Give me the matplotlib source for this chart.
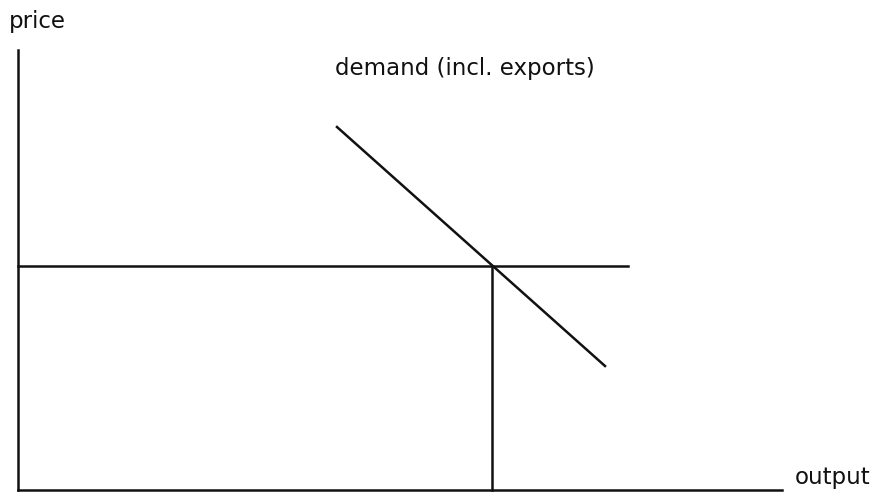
import matplotlib.pyplot as plt

# diagrama: oferta a preco mundial, demanda incl. exportacoes
eixo_x_fim = 764
eixo_y_topo = 440
preco_mundial = 224
preco_linha_fim = 610
quantidade = 474
demanda_x = [319, 587]
demanda_y = [363, 124]

plt.rcParams['font.family'] = ['DejaVu Sans']

fig = plt.figure(figsize=(8.73, 4.92), dpi=100)
ax = fig.add_axes([0, 0, 1, 1])
ax.set_xlim(-18, 855)
ax.set_ylim(-2, 490)
ax.axis('off')

cor = '#111111'
lw = 1.8
ax.plot([0, 0], [0, eixo_y_topo], color=cor, lw=lw)
ax.plot([0, eixo_x_fim], [0, 0], color=cor, lw=lw)
ax.plot([0, preco_linha_fim], [preco_mundial, preco_mundial], color=cor, lw=lw)
ax.plot([quantidade, quantidade], [0, preco_mundial], color=cor, lw=lw)
ax.plot(demanda_x, demanda_y, color=cor, lw=lw)

fs = 16.5
ax.text(-9, 462, 'price', fontsize=fs, va='baseline', ha='left', color=cor)
ax.text(317, 415, 'demand (incl. exports)', fontsize=fs, va='baseline', ha='left', color=cor)
ax.text(777, 6, 'output', fontsize=fs, va='baseline', ha='left', color=cor)

fig.savefig('out.png', dpi=100)
